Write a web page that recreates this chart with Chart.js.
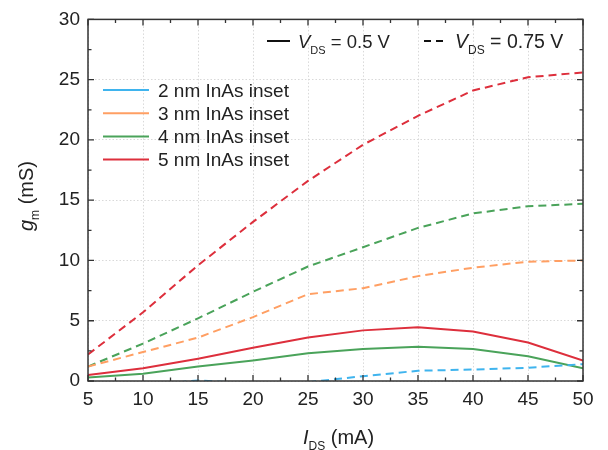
<!DOCTYPE html>
<html>
<head>
<meta charset="utf-8">
<script src="https://cdn.jsdelivr.net/npm/chart.js@4/dist/chart.umd.min.js"></script>
<style>
  html, body { margin: 0; padding: 0; background: #fff; }
  #wrap { width: 608px; height: 450px; }
</style>
</head>
<body>
<div id="wrap"><canvas id="gm-chart"></canvas></div>
<script>
// I_DS (mA)
const currents = [5, 10, 15, 20, 25, 30, 35, 40, 45, 50];

// legend labels and colours, one per inset thickness
const insetLabels = ['2 nm InAs inset', '3 nm InAs inset', '4 nm InAs inset', '5 nm InAs inset'];
const insetColors = ['#3fb4ee', '#ff9f63', '#4aa35a', '#dd2f3c'];

// g_m (mS) at V_DS = 0.75 V (dashed)
const gm075_2nm = [-1.0, -0.4, 0.05, -0.2, -0.1, 0.4, 0.85, 0.95, 1.1, 1.4];
const gm075_3nm = [1.2, 2.4, 3.6, 5.3, 7.2, 7.7, 8.7, 9.4, 9.9, 10.0];
const gm075_4nm = [1.2, 3.1, 5.2, 7.4, 9.5, 11.1, 12.7, 13.9, 14.5, 14.7];
const gm075_5nm = [2.2, 5.7, 9.6, 13.2, 16.6, 19.6, 22.0, 24.1, 25.2, 25.6];

// g_m (mS) at V_DS = 0.5 V (solid)
const gm05_4nm = [0.3, 0.6, 1.2, 1.7, 2.3, 2.65, 2.85, 2.65, 2.05, 1.05];
const gm05_5nm = [0.5, 1.05, 1.85, 2.75, 3.6, 4.2, 4.45, 4.1, 3.2, 1.7];

const xTicks = [5, 10, 15, 20, 25, 30, 35, 40, 45, 50];
const yTicks = [0, 5, 10, 15, 20, 25, 30];

const FONT = '"Liberation Sans", Arial, sans-serif';
const DASH = [8, 5];

function series(data, color, dashed) {
  return {
    data: data.map((v, i) => ({ x: currents[i], y: v })),
    borderColor: color,
    borderWidth: 2,
    borderDash: dashed ? DASH : [],
    pointRadius: 0,
    tension: 0,
    fill: false,
  };
}

// width of symbol + subscript + rest
function subWidth(ctx, sym, sub, rest, size) {
  ctx.font = `italic ${size}px ${FONT}`;
  let w = ctx.measureText(sym).width;
  ctx.font = `${Math.round(size * 0.62)}px ${FONT}`;
  w += ctx.measureText(sub).width;
  ctx.font = `${size}px ${FONT}`;
  return w + ctx.measureText(rest).width;
}

// draws text with an italic symbol and a subscript, returns end x
function drawSub(ctx, x, y, sym, sub, rest, size) {
  ctx.font = `italic ${size}px ${FONT}`;
  ctx.fillText(sym, x, y);
  x += ctx.measureText(sym).width;
  ctx.font = `${Math.round(size * 0.62)}px ${FONT}`;
  ctx.fillText(sub, x, y + size * 0.3);
  x += ctx.measureText(sub).width;
  ctx.font = `${size}px ${FONT}`;
  ctx.fillText(rest, x, y);
  return x + ctx.measureText(rest).width;
}

const decorations = {
  id: 'decorations',
  afterDraw(chart) {
    const { ctx, chartArea: a, scales } = chart;
    const xs = scales.x, ys = scales.y;
    ctx.save();

    // frame
    ctx.strokeStyle = '#333';
    ctx.lineWidth = 1.5;
    ctx.strokeRect(a.left, a.top, a.right - a.left, a.bottom - a.top);

    // inward ticks on all four sides, minor every 2.5
    ctx.lineWidth = 1.3;
    ctx.beginPath();
    for (let v = 5; v <= 50; v += 2.5) {
      const px = xs.getPixelForValue(v);
      const len = (v % 5 === 0) ? 6 : 3.5;
      ctx.moveTo(px, a.bottom); ctx.lineTo(px, a.bottom - len);
      ctx.moveTo(px, a.top);    ctx.lineTo(px, a.top + len);
    }
    for (let v = 0; v <= 30; v += 2.5) {
      const py = ys.getPixelForValue(v);
      const len = (v % 5 === 0) ? 6 : 3.5;
      ctx.moveTo(a.left, py);  ctx.lineTo(a.left + len, py);
      ctx.moveTo(a.right, py); ctx.lineTo(a.right - len, py);
    }
    ctx.stroke();

    ctx.fillStyle = '#222';
    ctx.textBaseline = 'alphabetic';

    // x title
    drawSub(ctx, 303, 444, 'I', 'DS', ' (mA)', 20);

    // y title (rotated)
    ctx.save();
    ctx.translate(33, 196);
    ctx.rotate(-Math.PI / 2);
    const yw = subWidth(ctx, 'g', 'm', ' (mS)', 20);
    drawSub(ctx, -yw / 2, 0, 'g', 'm', ' (mS)', 20);
    ctx.restore();

    // V_DS key, top right
    ctx.strokeStyle = '#111';
    ctx.lineWidth = 2;
    ctx.beginPath();
    ctx.moveTo(267, 41); ctx.lineTo(290, 41);
    ctx.stroke();
    drawSub(ctx, 298, 48, 'V', 'DS', ' = 0.5 V', 18.5);
    ctx.setLineDash([7, 5]);
    ctx.beginPath();
    ctx.moveTo(424, 41); ctx.lineTo(448, 41);
    ctx.stroke();
    ctx.setLineDash([]);
    drawSub(ctx, 455, 48, 'V', 'DS', ' = 0.75 V', 19.5);

    // inset legend
    insetLabels.forEach((lab, i) => {
      const y = 90 + i * 23.2;
      ctx.strokeStyle = insetColors[i];
      ctx.lineWidth = 2;
      ctx.beginPath();
      ctx.moveTo(103, y); ctx.lineTo(149, y);
      ctx.stroke();
      ctx.font = `19px ${FONT}`;
      ctx.fillText(lab, 158, y + 6.5);
    });

    ctx.restore();
  },
};

new Chart(document.getElementById('gm-chart'), {
  type: 'line',
  data: {
    datasets: [
      series(gm075_2nm, insetColors[0], true),
      series(gm075_3nm, insetColors[1], true),
      series(gm075_4nm, insetColors[2], true),
      series(gm075_5nm, insetColors[3], true),
      series(gm05_4nm, insetColors[2], false),
      series(gm05_5nm, insetColors[3], false),
    ],
  },
  options: {
    responsive: true,
    maintainAspectRatio: false,
    animation: false,
    layout: { padding: { top: 16, right: 25, left: 0, bottom: 0 } },
    plugins: { legend: { display: false }, tooltip: { enabled: false } },
    scales: {
      x: {
        type: 'linear',
        min: 5, max: 50,
        afterFit: s => { s.height = 69; },
        afterBuildTicks: s => { s.ticks = xTicks.map(v => ({ value: v })); },
        ticks: { color: '#222', font: { family: FONT, size: 19 }, padding: 7, maxRotation: 0 },
        grid: { color: '#d9d9d9', lineWidth: 1, drawTicks: false },
        border: { display: false, dash: [1.5, 2] },
      },
      y: {
        min: 0, max: 30,
        afterFit: s => { s.width = 88; },
        afterBuildTicks: s => { s.ticks = yTicks.map(v => ({ value: v })); },
        ticks: { color: '#222', font: { family: FONT, size: 19 }, padding: 8 },
        grid: { color: '#d9d9d9', lineWidth: 1, drawTicks: false },
        border: { display: false, dash: [1.5, 2] },
      },
    },
  },
  plugins: [decorations],
});
</script>
</body>
</html>
